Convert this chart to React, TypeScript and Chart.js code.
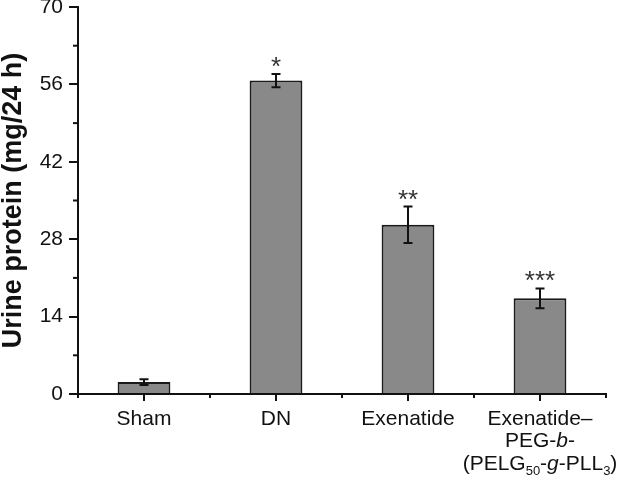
import React, { useEffect, useRef } from "react";
import { Chart, registerables } from "chart.js";

Chart.register(...registerables);

const categories = ["Sham", "DN", "Exenatide", "Exenatide–PEG-b-(PELG50-g-PLL3)"];
const means = [2.15, 56.7, 30.6, 17.3];
const errors = [0.5, 1.2, 3.3, 1.8];
const significance = ["", "*", "**", "***"];
const yMajorTicks = [0, 14, 28, 42, 56, 70];
const yMinorTicks = [7, 21, 35, 49, 63];
const yTitle = "Urine protein (mg/24 h)";
// rich tick labels: lines of runs [text, kind]; n = normal, i = italic, s = subscript
const labelLines: [string, string][][][] = [
  [[["Sham", "n"]]],
  [[["DN", "n"]]],
  [[["Exenatide", "n"]]],
  [
    [["Exenatide–", "n"]],
    [["PEG-", "n"], ["b", "i"], ["-", "n"]],
    [["(PELG", "n"], ["50", "s"], ["-", "n"], ["g", "i"], ["-PLL", "n"], ["3", "s"], [")", "n"]],
  ],
];

const FONT = "'Liberation Sans', Arial, sans-serif";

const overlayPlugin = {
  id: "overlay",
  afterDraw(chart: any) {
    const ctx = chart.ctx;
    const x = chart.scales.x;
    const y = chart.scales.y;
    const area = chart.chartArea;
    ctx.save();
    ctx.strokeStyle = "#111";
    ctx.fillStyle = "#111";
    ctx.lineWidth = 2;
    // error bars + stars
    means.forEach((m, i) => {
      const px = x.getPixelForValue(i);
      const top = y.getPixelForValue(m + errors[i]);
      const bot = y.getPixelForValue(m - errors[i]);
      ctx.beginPath();
      ctx.moveTo(px, top);
      ctx.lineTo(px, bot);
      ctx.moveTo(px - 4.5, top);
      ctx.lineTo(px + 4.5, top);
      ctx.moveTo(px - 4.5, bot);
      ctx.lineTo(px + 4.5, bot);
      ctx.stroke();
      if (significance[i]) {
        ctx.font = `26px ${FONT}`;
        ctx.textAlign = "center";
        ctx.textBaseline = "alphabetic";
        ctx.fillStyle = "#333";
        ctx.fillText(significance[i], px, top + 1);
        ctx.fillStyle = "#111";
      }
    });
    // y minor ticks
    yMinorTicks.forEach((v) => {
      const py = y.getPixelForValue(v);
      ctx.beginPath();
      ctx.moveTo(area.left - 5, py);
      ctx.lineTo(area.left, py);
      ctx.stroke();
    });
    // x center ticks
    categories.forEach((_, i) => {
      const px = x.getPixelForValue(i);
      ctx.beginPath();
      ctx.moveTo(px, area.bottom);
      ctx.lineTo(px, area.bottom + 7);
      ctx.stroke();
    });
    // x labels
    ctx.textBaseline = "middle";
    ctx.textAlign = "left";
    ctx.fillStyle = "#111";
    const fontFor = (k: string) =>
      k === "i" ? `italic 21px ${FONT}` : k === "s" ? `13px ${FONT}` : `21px ${FONT}`;
    labelLines.forEach((lines, i) => {
      const cx = x.getPixelForValue(i);
      lines.forEach((runs, li) => {
        const ly = area.bottom + 25 + li * 22.5;
        let total = 0;
        runs.forEach(([t, k]) => {
          ctx.font = fontFor(k);
          total += ctx.measureText(t).width;
        });
        let sx = cx - total / 2;
        runs.forEach(([t, k]) => {
          ctx.font = fontFor(k);
          ctx.fillText(t, sx, k === "s" ? ly + 7 : ly);
          sx += ctx.measureText(t).width;
        });
      });
    });
    ctx.restore();
  },
};

export default function App() {
  const ref = useRef<HTMLCanvasElement>(null);
  useEffect(() => {
    document.body.style.margin = "0";
    const chart = new Chart(ref.current!, {
      type: "bar",
      data: {
        labels: categories,
        datasets: [
          {
            data: means,
            backgroundColor: "#898989",
            borderColor: "#1a1a1a",
            borderWidth: 2,
            barPercentage: 0.4,
            categoryPercentage: 1,
          },
        ],
      },
      options: {
        animation: false,
        responsive: false,
        devicePixelRatio: 1,
        layout: { padding: { top: 7, right: 14, left: 0, bottom: 0 } },
        plugins: { legend: { display: false }, tooltip: { enabled: false } },
        scales: {
          x: {
            offset: true,
            grid: {
              offset: true,
              drawOnChartArea: false,
              color: "#111",
              lineWidth: 2,
              tickLength: 4,
            },
            border: { color: "#111", width: 2 },
            ticks: { display: false },
            afterFit: (s: any) => {
              s.height = 93;
              s.paddingLeft = 0;
              s.paddingRight = 0;
            },
          },
          y: {
            min: 0,
            max: 70,
            afterBuildTicks: (s: any) => {
              s.ticks = yMajorTicks.map((v) => ({ value: v }));
            },
            grid: {
              drawOnChartArea: false,
              color: "#111",
              lineWidth: 2,
              tickLength: 9,
            },
            border: { color: "#111", width: 2 },
            ticks: {
              color: "#111",
              font: { family: FONT, size: 21 },
              padding: 6,
            },
            title: {
              display: true,
              text: yTitle,
              color: "#111",
              font: { family: FONT, size: 27, weight: "bold", lineHeight: 1 },
              padding: 0,
            },
            afterFit: (s: any) => {
              s.width = 78;
              s.paddingTop = 0;
              s.paddingBottom = 0;
            },
          },
        },
      },
      plugins: [overlayPlugin],
    } as any);
    return () => chart.destroy();
  }, []);
  return (
    <div style={{ width: 620, height: 487, background: "#fff" }}>
      <canvas ref={ref} width={620} height={487} style={{ display: "block" }} />
    </div>
  );
}
